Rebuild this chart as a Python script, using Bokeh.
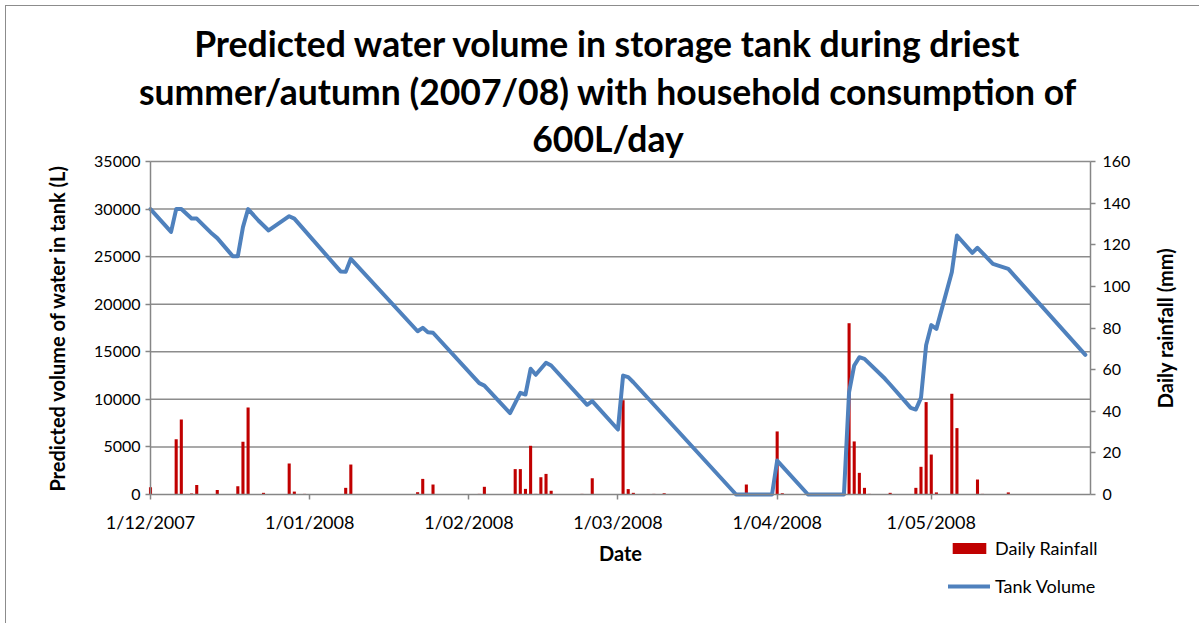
import math
import pandas as pd
from bokeh.plotting import figure
from bokeh.models import (Range1d, LinearAxis, FixedTicker, Title, Legend,
                          LegendItem, ColumnDataSource, Label)
from bokeh.embed import file_html
from bokeh.resources import INLINE

START = "2007-12-01"
END = "2008-06-01"

title_lines = ["Predicted water volume in storage tank during driest",
               "summer/autumn (2007/08) with household consumption of",
               "600L/day"]

x_tick_dates = ["2007-12-01", "2008-01-01", "2008-02-01", "2008-03-01",
                "2008-04-01", "2008-05-01"]
x_tick_labels = ["1/12/2007", "1/01/2008", "1/02/2008", "1/03/2008",
                 "1/04/2008", "1/05/2008"]
volume_ticks = [0, 5000, 10000, 15000, 20000, 25000, 30000, 35000]
rain_ticks = [0, 20, 40, 60, 80, 100, 120, 140, 160]

rain_dates = [
    "2007-12-01", "2007-12-06", "2007-12-07", "2007-12-09", "2007-12-10",
    "2007-12-14", "2007-12-15", "2007-12-18", "2007-12-19", "2007-12-20",
    "2007-12-23", "2007-12-28", "2007-12-29", "2007-12-30", "2007-12-31",
    "2008-01-08", "2008-01-09", "2008-01-22", "2008-01-23", "2008-01-25",
    "2008-01-26", "2008-02-03", "2008-02-04", "2008-02-10", "2008-02-11",
    "2008-02-12", "2008-02-13", "2008-02-14", "2008-02-15", "2008-02-16",
    "2008-02-17", "2008-02-23", "2008-02-25", "2008-02-26", "2008-02-27",
    "2008-03-02", "2008-03-03", "2008-03-04", "2008-03-08", "2008-03-10",
    "2008-03-13", "2008-03-20", "2008-03-22", "2008-03-26", "2008-03-31",
    "2008-04-01", "2008-04-02", "2008-04-04", "2008-04-15", "2008-04-16",
    "2008-04-17", "2008-04-18", "2008-04-19", "2008-04-23", "2008-04-25",
    "2008-04-28", "2008-04-29", "2008-04-30", "2008-05-01", "2008-05-02",
    "2008-05-05", "2008-05-06", "2008-05-08", "2008-05-10", "2008-05-11",
    "2008-05-16"]
rain_mm = [
    3.5, 26.6, 36.0, 0.5, 4.6,
    2.2, 0.3, 4.0, 25.3, 41.8,
    0.8, 14.9, 1.4, 0.2, 0.3,
    3.2, 14.4, 1.1, 7.5, 4.8,
    0.2, 0.3, 3.7, 12.2, 12.2,
    2.7, 23.4, 0.3, 8.3, 9.9,
    1.8, 0.3, 7.8, 0.2, 0.2,
    45.3, 2.6, 0.8, 0.3, 0.6,
    0.2, 0.2, 0.2, 4.8, 0.3,
    30.3, 0.6, 0.2, 82.3, 25.5,
    10.4, 3.2, 0.3, 0.8, 0.2,
    3.2, 13.3, 44.4, 19.2, 1.0,
    48.4, 31.9, 0.2, 7.2, 0.3,
    1.0]

tank_dates = [
    "2007-12-01", "2007-12-05", "2007-12-06", "2007-12-07", "2007-12-09",
    "2007-12-10", "2007-12-13", "2007-12-14", "2007-12-17", "2007-12-18",
    "2007-12-19", "2007-12-20", "2007-12-22", "2007-12-24", "2007-12-28",
    "2007-12-29", "2008-01-07", "2008-01-08", "2008-01-09", "2008-01-22",
    "2008-01-23", "2008-01-24", "2008-01-25", "2008-02-03", "2008-02-04",
    "2008-02-09", "2008-02-11", "2008-02-12", "2008-02-13", "2008-02-14",
    "2008-02-16", "2008-02-17", "2008-02-24", "2008-02-25", "2008-03-01",
    "2008-03-02", "2008-03-03", "2008-03-04", "2008-03-24", "2008-03-31",
    "2008-04-01", "2008-04-07", "2008-04-14", "2008-04-15", "2008-04-16",
    "2008-04-17", "2008-04-18", "2008-04-22", "2008-04-23", "2008-04-27",
    "2008-04-28", "2008-04-29", "2008-04-30", "2008-05-01", "2008-05-02",
    "2008-05-05", "2008-05-06", "2008-05-09", "2008-05-10", "2008-05-13",
    "2008-05-16", "2008-05-31"]
tank_litres = [
    30000, 27600, 30000, 30000, 29000,
    29000, 27400, 26950, 25050, 25050,
    28100, 30000, 28800, 27750, 29250,
    29000, 23450, 23400, 24770, 17160,
    17520, 17060, 17000, 11700, 11450,
    8550, 10690, 10510, 13210, 12580,
    13840, 13560, 9430, 9810, 6830,
    12500, 12330, 11800, 0, 0,
    3570, 0, 0, 10750, 13560,
    14430, 14260, 12160, 11560, 9110,
    8930, 10160, 15700, 17800, 17410,
    23360, 27220, 25400, 25930, 24250,
    23720, 14680]

start = pd.Timestamp(START)


def day_index(dates):
    return [int((pd.Timestamp(d) - start).days) for d in dates]


span = day_index([END])[0]
tick_days = day_index(x_tick_dates)

FONT = "Lato"
GRID = "#8c8c8c"
AXIS = "#868686"
BORDER = "#8c8c8c"

# geometry in page pixels; the canvas sits inside a thin chart-area border
O = 6                                  # 5px margin + 1px border
W, H = 1200 - O, 624 - O
PL, PR, PT, PZ = 150 - O, 1090 - O, 161 - O, 494 - O   # chart area
FL = 15 - O                            # frame left (centres the title)
FT = 151 - O                           # frame top (title panel above)
MB = 4
RLX = 1164 - O                         # centre of the right axis title
frame_bottom = H - MB
vmax, rmax = volume_ticks[-1], rain_ticks[-1]

ppd = (PR - PL) / span                 # pixels per day
ppv = (PZ - PT) / vmax                 # pixels per litre
ppr = (PZ - PT) / rmax                 # pixels per mm

p = figure(width=W, height=H, output_backend="svg", toolbar_location=None,
           x_range=Range1d(-(PL - FL) / ppd, span + (W - PR) / ppd),
           y_range=Range1d(-(frame_bottom - PZ) / ppv, vmax + (PT - FT) / ppv),
           min_border_left=FL, min_border_right=0,
           min_border_top=FT, min_border_bottom=MB,
           background_fill_color="white", border_fill_color="white")
p.styles = {"margin-left": "5px", "margin-top": "5px",
            "border-left": f"1px solid {BORDER}",
            "border-top": f"1px solid {BORDER}"}
p.outline_line_color = None
p.extra_y_ranges = {"rain": Range1d(-(frame_bottom - PZ) / ppr,
                                    rmax + (PT - FT) / ppr)}
p.xgrid.grid_line_color = None
p.ygrid.grid_line_color = None

standoffs = [-17, 22, -17]
for line, so in reversed(list(zip(title_lines, standoffs))):
    p.add_layout(Title(text=line, align="center", text_font=FONT,
                       text_font_size="35.5px", text_font_style="bold",
                       text_color="black", standoff=so), "above")

# horizontal gridlines over the chart area only
grid_y = volume_ticks[1:]
p.segment(x0=[0] * len(grid_y), x1=[span] * len(grid_y), y0=grid_y,
          y1=grid_y, line_color=GRID, line_width=1.5)

rain_src = ColumnDataSource(dict(x=day_index(rain_dates), top=rain_mm))
tank_src = ColumnDataSource(dict(x=day_index(tank_dates), y=tank_litres))

bars = p.vbar(x="x", top="top", width=0.6, source=rain_src,
              y_range_name="rain", fill_color="#C00000", line_color=None)
tank = p.line(x="x", y="y", source=tank_src, line_color="#4F81BD",
              line_width=4, line_join="round", line_cap="round")

# x axis drawn at value zero
xa = p.xaxis[0]
xa.fixed_location = 0
xa.bounds = (0, span)
xa.ticker = FixedTicker(ticks=tick_days)
xa.major_label_overrides = {d: lab for d, lab in zip(tick_days, x_tick_labels)}
xa.axis_label = "Date"

# left axis at the first day
ya = p.yaxis[0]
ya.fixed_location = 0
ya.ticker = FixedTicker(ticks=volume_ticks)
ya.bounds = (0, vmax)
ya.axis_label = "Predicted volume of water in tank (L)"

# right axis at the end of the period
ra = LinearAxis(y_range_name="rain", ticker=FixedTicker(ticks=rain_ticks),
                bounds=(0, rmax))
ra.fixed_location = span
p.add_layout(ra, "right")

for ax in (xa, ya, ra):
    ax.axis_line_color = AXIS
    ax.axis_line_width = 1.5
    ax.major_tick_line_color = AXIS
    ax.major_tick_line_width = 1.5
    ax.major_tick_in = 0
    ax.major_tick_out = 5
    ax.minor_tick_line_color = None
    ax.major_label_text_font = FONT
    ax.major_label_text_font_size = "16px"
    ax.major_label_text_color = "black"
    ax.axis_label_text_font = FONT
    ax.axis_label_text_font_size = "20px"
    ax.axis_label_text_font_style = "bold"
    ax.axis_label_text_color = "black"

xa.major_label_text_font_size = "18px"
xa.major_label_standoff = 11
xa.axis_label_standoff = 5
ya.major_label_standoff = 5
ya.axis_label_standoff = 22
ra.major_label_standoff = 7

# right axis title, reading bottom-to-top, centred on the rainfall scale
p.add_layout(Label(x=span + (RLX - PR) / ppd,
                   y=(rain_ticks[0] + rain_ticks[-1]) / 2,
                   y_range_name="rain", text="Daily rainfall (mm)",
                   angle=math.pi / 2, text_align="center",
                   text_baseline="middle", text_font=FONT,
                   text_font_size="20px", text_font_style="bold",
                   text_color="black"))

legend = Legend(items=[LegendItem(label="Daily Rainfall", renderers=[bars]),
                       LegendItem(label="Tank Volume", renderers=[tank])],
                location=(948 - O - FL, 23), orientation="vertical",
                glyph_width=42, glyph_height=14, label_height=20,
                spacing=16, padding=0, margin=0, label_standoff=5,
                border_line_color=None, background_fill_alpha=0,
                label_text_font=FONT, label_text_font_size="18px",
                label_text_color="black")
p.add_layout(legend)

open("out.html", "w").write(file_html(p, INLINE))
